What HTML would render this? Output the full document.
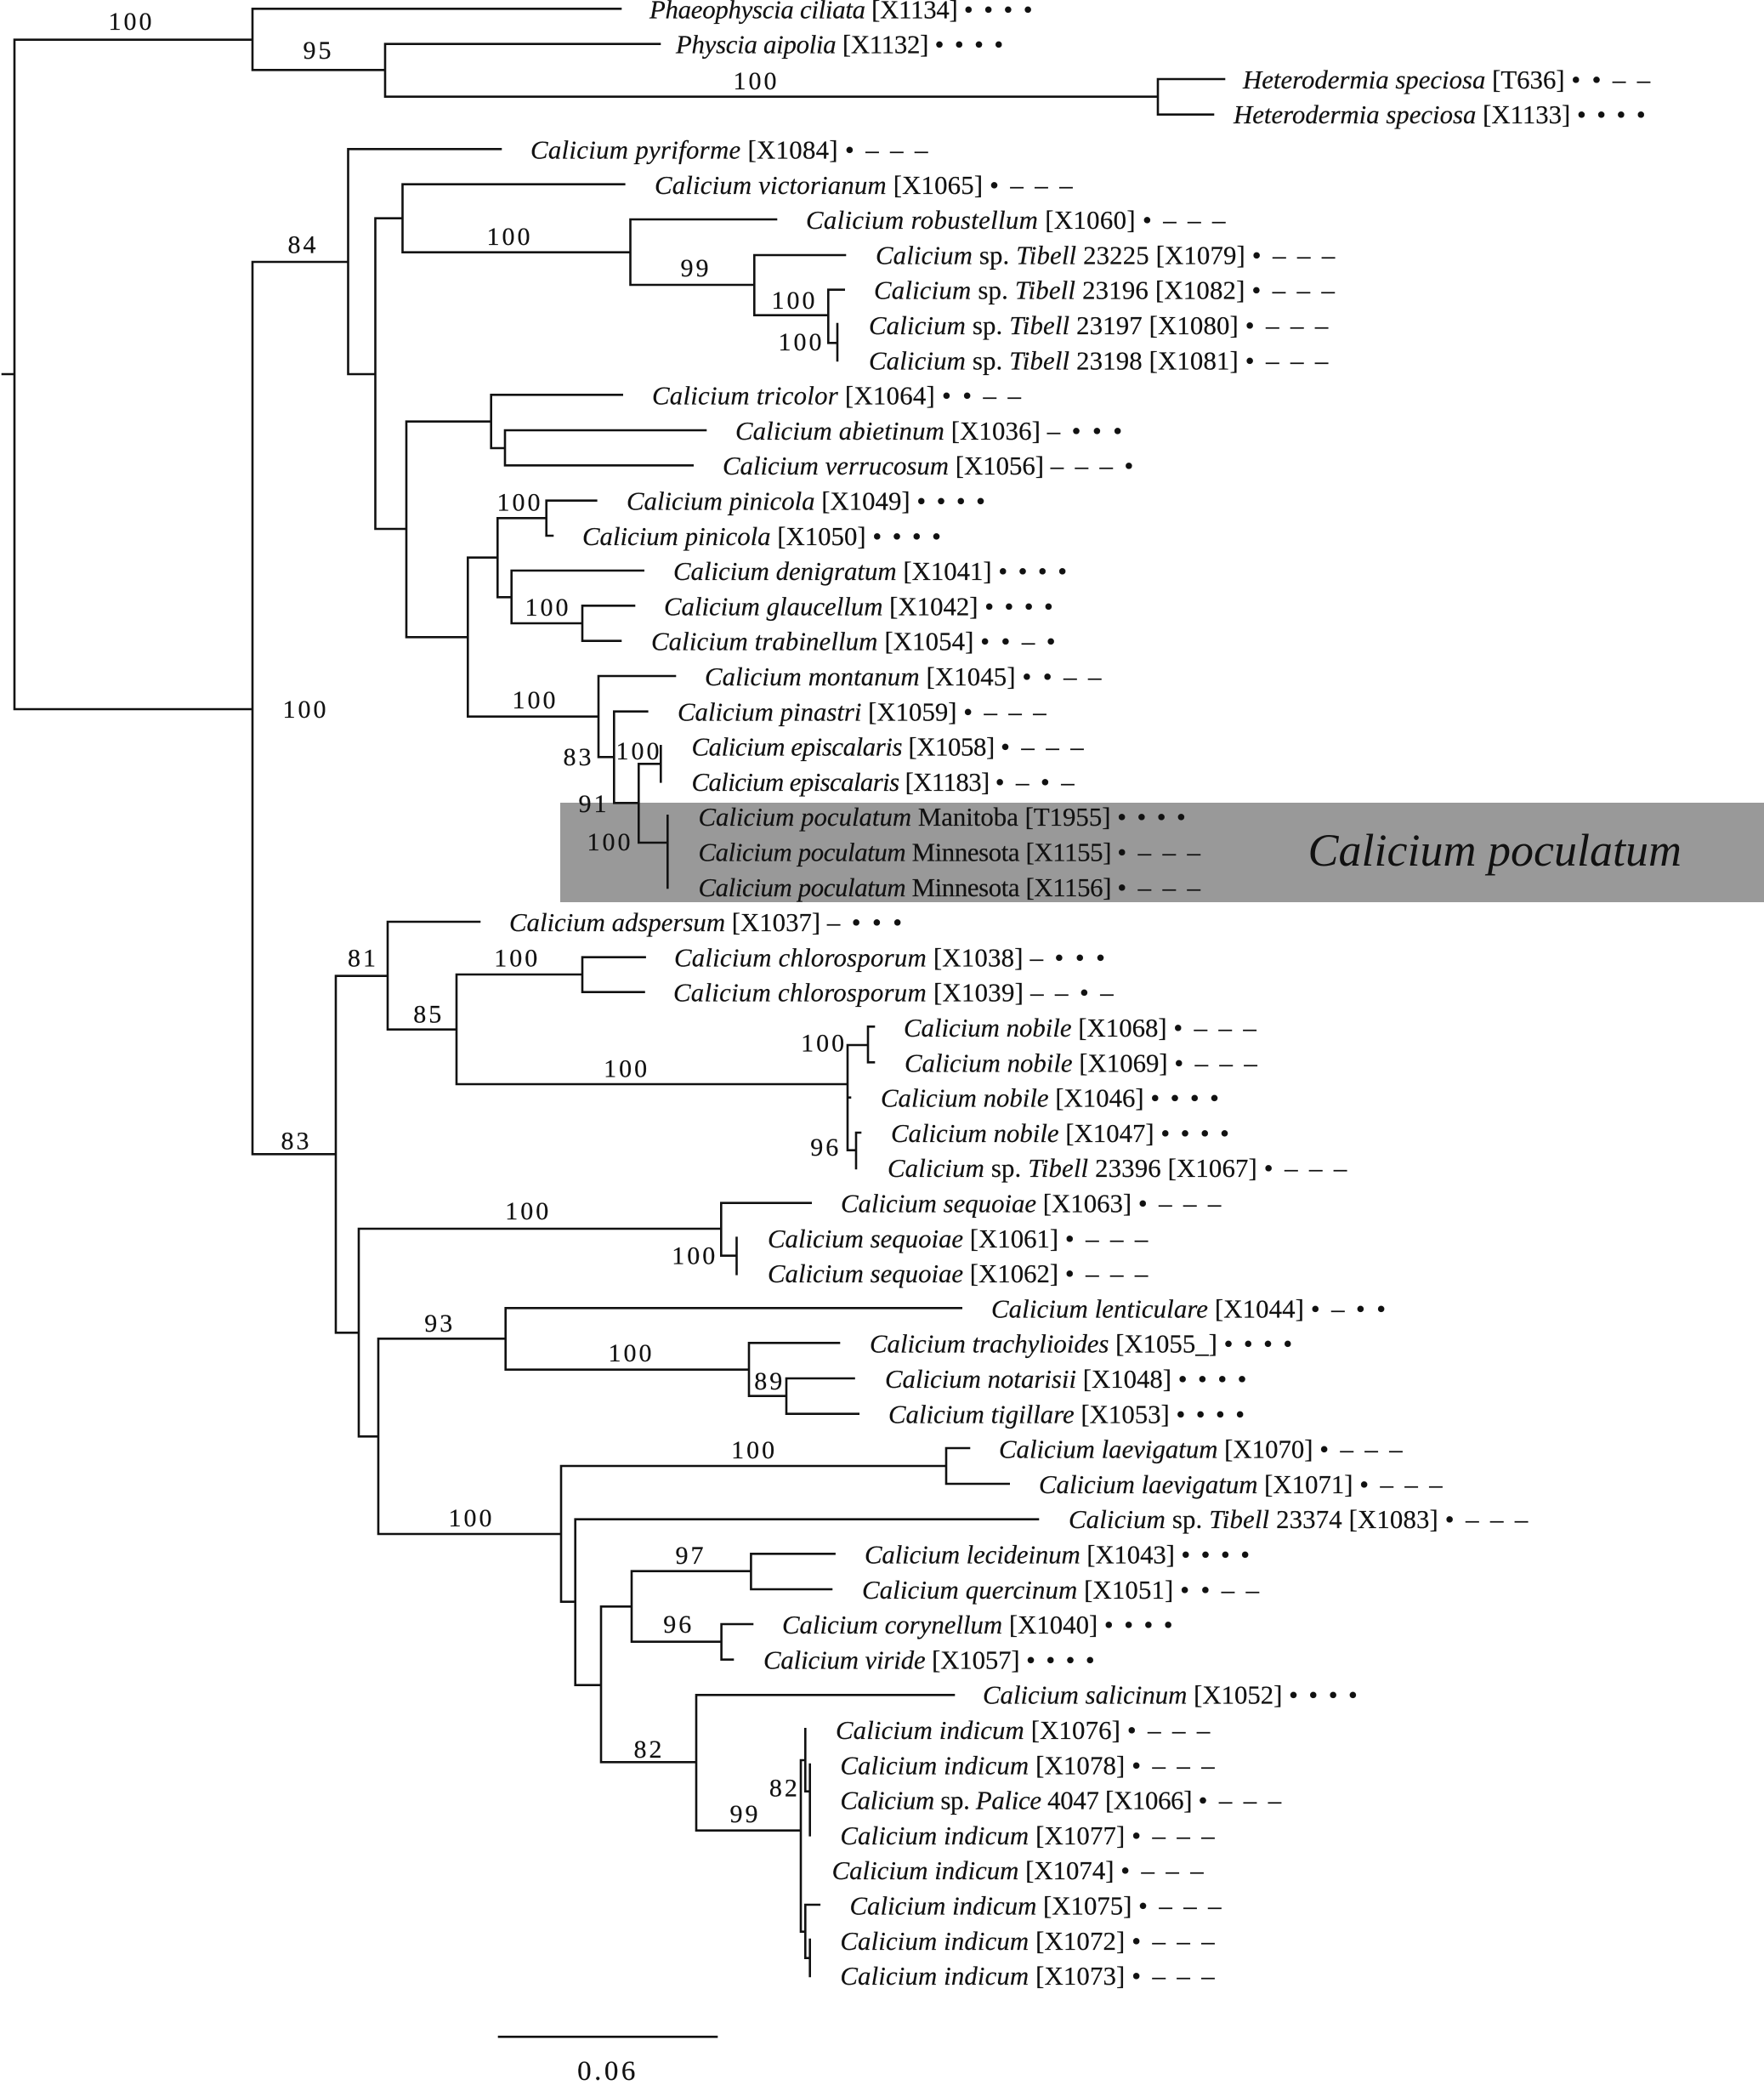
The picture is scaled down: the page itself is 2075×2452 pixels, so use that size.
<!DOCTYPE html>
<html><head><meta charset="utf-8">
<style>
html,body{margin:0;padding:0;background:#fff}
svg{display:block}
text{font-family:"Liberation Serif",serif;font-size:30.8px;fill:#111;white-space:pre;stroke:#111;stroke-width:.2}
.i{font-style:italic}
.m{letter-spacing:2.4px}
.d{letter-spacing:2.9px}
.n{font-size:30px;letter-spacing:3px;text-anchor:middle;transform:translateX(1.5px)}
.s{font-size:33px;letter-spacing:3.5px;text-anchor:middle}
.big{font-size:54px;font-style:italic;stroke-width:0}
path{fill:none;stroke:#111;stroke-width:2.6;stroke-linecap:square}
</style></head><body>
<svg width="2075" height="2452" viewBox="0 0 2075 2452" xmlns="http://www.w3.org/2000/svg">
<rect x="659" y="944" width="1416" height="117" fill="#999"/>
<path d="M3 440H17M17 46.7V834M17 46.7H297M297 10.3V82.3M297 10.3H730M297 82.3H453M453 51.7V113.7M453 51.7H776M453 113.7H1362M1362 93V134.7M1362 93H1440M1362 134.7H1427
M17 834H297M297 308V1357.3M297 308H409.5M409.5 175.3V440M409.5 175.3H589M409.5 440H441.5M441.5 256.7V622M441.5 256.7H473.5M473.5 216.7V296.7M473.5 216.7H734.3M473.5 296.7H741.5M741.5 258V335M741.5 258H913M741.5 335H887.3M887.3 300V370.7M887.3 300H994M887.3 370.7H974.3M974.3 340.7V403.3M974.3 340.7H992.7M974.3 403.3H985M985 381V424
M441.5 622H478M478 495.7V749.3M478 495.7H577.7M577.7 464.3V527M577.7 464.3H731.7M577.7 527H594M594 506V547.3M594 506H830M594 547.3H814.7
M478 749.3H550.3M550.3 655.7V842.7M550.3 655.7H585.3M585.3 609.3V702.3M585.3 609.3H642.7M642.7 588.7V630M642.7 588.7H701.3M642.7 630H650M585.3 702.3H601.7M601.7 671V733M601.7 671H756.7M601.7 733H685M685 712.3V753.7M685 712.3H746M685 753.7H730
M550.3 842.7H704M704 795V890.3M704 795H794M704 890.3H722.3M722.3 836.7V944.3M722.3 836.7H761.3M722.3 944.3H751.3M751.3 898.3V991M751.3 898.3H777.3M777.3 877.3V919.3M751.3 991H785.3M785.3 959.3V1044
M297 1357.3H395M395 1147.7V1567.3M395 1147.7H456M456 1084V1210.7M456 1084H564M456 1210.7H537M537 1146V1275M537 1146H685M685 1125.7V1166.7M685 1125.7H758.6M685 1166.7H757.5M537 1275H997M997 1229V1352.7M997 1229H1021M1021 1207.3V1249.3M1021 1207.3H1028M1021 1249.3H1028M997 1290.7H1000M997 1352.7H1007M1007 1332V1374M1007 1332H1012
M395 1567.3H422M422 1445V1689.3M422 1445H848.3M848.3 1414.7V1476.7M848.3 1414.7H953.7M848.3 1476.7H866.5M866.5 1455.7V1498.3
M422 1689.3H445M445 1574.3V1804M445 1574.3H594.7M594.7 1538.3V1610.7M594.7 1538.3H1130.7M594.7 1610.7H881M881 1579.3V1641.7M881 1579.3H987M881 1641.7H925M925 1621V1662.7M925 1621H1004.5M925 1662.7H1009.7
M445 1804H660M660 1724V1883.7M660 1724H1113M1113 1703V1745M1113 1703H1140M1113 1745H1186.7M660 1883.7H676.7M676.7 1786.7V1981.7M676.7 1786.7H1221M676.7 1981.7H707M707 1889.3V2072.3M707 1889.3H743M743 1847.7V1930.7M743 1847.7H883.4M883.4 1827.3V1869M883.4 1827.3H981.6M883.4 1869H978M743 1930.7H848.6M848.6 1910V1951.7M848.6 1910H885M848.6 1951.7H862
M707 2072.3H819M819 1993.3V2152.7M819 1993.3H1122M819 2152.7H942M942 2070V2271.7M942 2070H947.3M947.3 2033.3V2106.7M947.3 2106.7H952.7M952.7 2075V2158.3M942 2271.7H947.3M947.3 2240V2302.7M947.3 2240H963.8M947.3 2302.7H952.7M952.7 2281V2324
M587 2395.3H843"/>

<text class="n" x="153" y="35">100</text>
<text class="n" x="373" y="69">95</text>
<text class="n" x="888" y="105">100</text>
<text class="n" x="355" y="297.7">84</text>
<text class="n" x="598" y="288">100</text>
<text class="n" x="817" y="325">99</text>
<text class="n" x="933" y="363">100</text>
<text class="n" x="941" y="412">100</text>
<text class="n" x="610" y="600.7">100</text>
<text class="n" x="643" y="724">100</text>
<text class="n" x="628" y="833">100</text>
<text class="n" x="358" y="844">100</text>
<text class="n" x="679" y="900">83</text>
<text class="n" x="750" y="893">100</text>
<text class="n" x="697" y="955">91</text>
<text class="n" x="716" y="1000">100</text>
<text class="n" x="425.5" y="1136.7">81</text>
<text class="n" x="606.8" y="1136.7">100</text>
<text class="n" x="502.7" y="1202.3">85</text>
<text class="n" x="735.6" y="1266.7">100</text>
<text class="n" x="967.6" y="1236.7">100</text>
<text class="n" x="969.8" y="1359">96</text>
<text class="n" x="347" y="1351.6">83</text>
<text class="n" x="619.8" y="1434">100</text>
<text class="n" x="815.8" y="1486.7">100</text>
<text class="n" x="515.7" y="1566">93</text>
<text class="n" x="741" y="1601">100</text>
<text class="n" x="903.8" y="1634">89</text>
<text class="n" x="885.6" y="1715">100</text>
<text class="n" x="553" y="1795">100</text>
<text class="n" x="811" y="1839">97</text>
<text class="n" x="796.8" y="1920">96</text>
<text class="n" x="762" y="2067">82</text>
<text class="n" x="921.4" y="2112.7">82</text>
<text class="n" x="875" y="2143">99</text>
<text class="s" x="715" y="2446">0.06</text>

<text class="big" x="1538.5" y="1018">Calicium poculatum</text>

<text x="764" y="21.3" style="letter-spacing:-.27px"><tspan class="i">Phaeophyscia ciliata</tspan> [X1134] <tspan class="m">• • • •</tspan></text>
<text x="795" y="62.6" style="letter-spacing:-.27px"><tspan class="i">Physcia aipolia</tspan> [X1132] <tspan class="m">• • • •</tspan></text>
<text x="1462" y="103.9"><tspan class="i">Heterodermia speciosa</tspan> [T636] <tspan class="d">• • – –</tspan></text>
<text x="1451" y="145.2"><tspan class="i">Heterodermia speciosa</tspan> [X1133] <tspan class="m">• • • •</tspan></text>
<text x="624" y="186.5" style="letter-spacing:.3px"><tspan class="i">Calicium pyriforme</tspan> [X1084] <tspan class="d">• – – –</tspan></text>
<text x="770" y="227.8" style="letter-spacing:.17px"><tspan class="i">Calicium victorianum</tspan> [X1065] <tspan class="d">• – – –</tspan></text>
<text x="948" y="269.1" style="letter-spacing:.33px"><tspan class="i">Calicium robustellum</tspan> [X1060] <tspan class="d">• – – –</tspan></text>
<text x="1030" y="310.4" style="letter-spacing:.14px"><tspan class="i">Calicium</tspan> sp. <tspan class="i">Tibell</tspan> 23225 [X1079] <tspan class="d">• – – –</tspan></text>
<text x="1028" y="351.7" style="letter-spacing:.19px"><tspan class="i">Calicium</tspan> sp. <tspan class="i">Tibell</tspan> 23196 [X1082] <tspan class="d">• – – –</tspan></text>
<text x="1022" y="393" style="letter-spacing:.14px"><tspan class="i">Calicium</tspan> sp. <tspan class="i">Tibell</tspan> 23197 [X1080] <tspan class="d">• – – –</tspan></text>
<text x="1022" y="434.3" style="letter-spacing:.14px"><tspan class="i">Calicium</tspan> sp. <tspan class="i">Tibell</tspan> 23198 [X1081] <tspan class="d">• – – –</tspan></text>
<text x="767" y="475.6" style="letter-spacing:.25px"><tspan class="i">Calicium tricolor</tspan> [X1064] <tspan class="d">• • – –</tspan></text>
<text x="865" y="516.9" style="letter-spacing:.12px"><tspan class="i">Calicium abietinum</tspan> [X1036] <tspan class="d">– • • •</tspan></text>
<text x="850" y="558.2"><tspan class="i">Calicium verrucosum</tspan> [X1056] <tspan class="d">– – – •</tspan></text>
<text x="737" y="599.5"><tspan class="i">Calicium pinicola</tspan> [X1049] <tspan class="m">• • • •</tspan></text>
<text x="685" y="640.8"><tspan class="i">Calicium pinicola</tspan> [X1050] <tspan class="m">• • • •</tspan></text>
<text x="792" y="682.1"><tspan class="i">Calicium denigratum</tspan> [X1041] <tspan class="m">• • • •</tspan></text>
<text x="781" y="723.4"><tspan class="i">Calicium glaucellum</tspan> [X1042] <tspan class="m">• • • •</tspan></text>
<text x="766" y="764.7" style="letter-spacing:.11px"><tspan class="i">Calicium trabinellum</tspan> [X1054] <tspan class="d">• • – •</tspan></text>
<text x="829" y="806" style="letter-spacing:.12px"><tspan class="i">Calicium montanum</tspan> [X1045] <tspan class="d">• • – –</tspan></text>
<text x="797" y="847.3"><tspan class="i">Calicium pinastri</tspan> [X1059] <tspan class="d">• – – –</tspan></text>
<text x="813.5" y="888.6" style="letter-spacing:-.41px"><tspan class="i">Calicium episcalaris</tspan> [X1058] <tspan class="d">• – – –</tspan></text>
<text x="813.5" y="929.9" style="letter-spacing:-.59px"><tspan class="i">Calicium episcalaris</tspan> [X1183] <tspan class="d">• – • –</tspan></text>
<text x="821.5" y="971.2"><tspan class="i">Calicium poculatum</tspan> Manitoba [T1955] <tspan class="m">• • • •</tspan></text>
<text x="821.5" y="1012.5" style="letter-spacing:-.38px"><tspan class="i">Calicium poculatum</tspan> Minnesota [X1155] <tspan class="d">• – – –</tspan></text>
<text x="821.5" y="1053.8" style="letter-spacing:-.38px"><tspan class="i">Calicium poculatum</tspan> Minnesota [X1156] <tspan class="d">• – – –</tspan></text>
<text x="599" y="1095.1"><tspan class="i">Calicium adspersum</tspan> [X1037] <tspan class="d">– • • •</tspan></text>
<text x="793" y="1136.4" style="letter-spacing:.22px"><tspan class="i">Calicium chlorosporum</tspan> [X1038] <tspan class="d">– • • •</tspan></text>
<text x="792" y="1177.7" style="letter-spacing:.27px"><tspan class="i">Calicium chlorosporum</tspan> [X1039] <tspan class="d">– – • –</tspan></text>
<text x="1063" y="1219"><tspan class="i">Calicium nobile</tspan> [X1068] <tspan class="d">• – – –</tspan></text>
<text x="1064" y="1260.3"><tspan class="i">Calicium nobile</tspan> [X1069] <tspan class="d">• – – –</tspan></text>
<text x="1036" y="1301.6"><tspan class="i">Calicium nobile</tspan> [X1046] <tspan class="m">• • • •</tspan></text>
<text x="1048" y="1342.9"><tspan class="i">Calicium nobile</tspan> [X1047] <tspan class="m">• • • •</tspan></text>
<text x="1044" y="1384.2" style="letter-spacing:.14px"><tspan class="i">Calicium</tspan> sp. <tspan class="i">Tibell</tspan> 23396 [X1067] <tspan class="d">• – – –</tspan></text>
<text x="989" y="1425.5"><tspan class="i">Calicium sequoiae</tspan> [X1063] <tspan class="d">• – – –</tspan></text>
<text x="903" y="1466.8"><tspan class="i">Calicium sequoiae</tspan> [X1061] <tspan class="d">• – – –</tspan></text>
<text x="903" y="1508.1"><tspan class="i">Calicium sequoiae</tspan> [X1062] <tspan class="d">• – – –</tspan></text>
<text x="1166" y="1549.4" style="letter-spacing:.11px"><tspan class="i">Calicium lenticulare</tspan> [X1044] <tspan class="d">• – • •</tspan></text>
<text x="1023" y="1590.7"><tspan class="i">Calicium trachylioides</tspan> [X1055_] <tspan class="m">• • • •</tspan></text>
<text x="1041" y="1632"><tspan class="i">Calicium notarisii</tspan> [X1048] <tspan class="m">• • • •</tspan></text>
<text x="1045" y="1673.3"><tspan class="i">Calicium tigillare</tspan> [X1053] <tspan class="m">• • • •</tspan></text>
<text x="1175" y="1714.6"><tspan class="i">Calicium laevigatum</tspan> [X1070] <tspan class="d">• – – –</tspan></text>
<text x="1222" y="1755.9"><tspan class="i">Calicium laevigatum</tspan> [X1071] <tspan class="d">• – – –</tspan></text>
<text x="1257" y="1797.2" style="letter-spacing:.14px"><tspan class="i">Calicium</tspan> sp. <tspan class="i">Tibell</tspan> 23374 [X1083] <tspan class="d">• – – –</tspan></text>
<text x="1017" y="1838.5" style="letter-spacing:-.11px"><tspan class="i">Calicium lecideinum</tspan> [X1043] <tspan class="m">• • • •</tspan></text>
<text x="1014" y="1879.8" style="letter-spacing:.12px"><tspan class="i">Calicium quercinum</tspan> [X1051] <tspan class="d">• • – –</tspan></text>
<text x="920" y="1921.1"><tspan class="i">Calicium corynellum</tspan> [X1040] <tspan class="m">• • • •</tspan></text>
<text x="898" y="1962.4" style="letter-spacing:-.13px"><tspan class="i">Calicium viride</tspan> [X1057] <tspan class="m">• • • •</tspan></text>
<text x="1156" y="2003.7"><tspan class="i">Calicium salicinum</tspan> [X1052] <tspan class="m">• • • •</tspan></text>
<text x="983" y="2045" style="letter-spacing:.13px"><tspan class="i">Calicium indicum</tspan> [X1076] <tspan class="d">• – – –</tspan></text>
<text x="988.4" y="2086.3" style="letter-spacing:.13px"><tspan class="i">Calicium indicum</tspan> [X1078] <tspan class="d">• – – –</tspan></text>
<text x="988.4" y="2127.6" style="letter-spacing:-.3px"><tspan class="i">Calicium</tspan> sp. <tspan class="i">Palice</tspan> 4047 [X1066] <tspan class="d">• – – –</tspan></text>
<text x="988.4" y="2168.9" style="letter-spacing:.13px"><tspan class="i">Calicium indicum</tspan> [X1077] <tspan class="d">• – – –</tspan></text>
<text x="978.6" y="2210.2"><tspan class="i">Calicium indicum</tspan> [X1074] <tspan class="d">• – – –</tspan></text>
<text x="999.5" y="2251.5"><tspan class="i">Calicium indicum</tspan> [X1075] <tspan class="d">• – – –</tspan></text>
<text x="988.4" y="2292.8" style="letter-spacing:.13px"><tspan class="i">Calicium indicum</tspan> [X1072] <tspan class="d">• – – –</tspan></text>
<text x="988.4" y="2334.1" style="letter-spacing:.13px"><tspan class="i">Calicium indicum</tspan> [X1073] <tspan class="d">• – – –</tspan></text>
</svg>
</body></html>
